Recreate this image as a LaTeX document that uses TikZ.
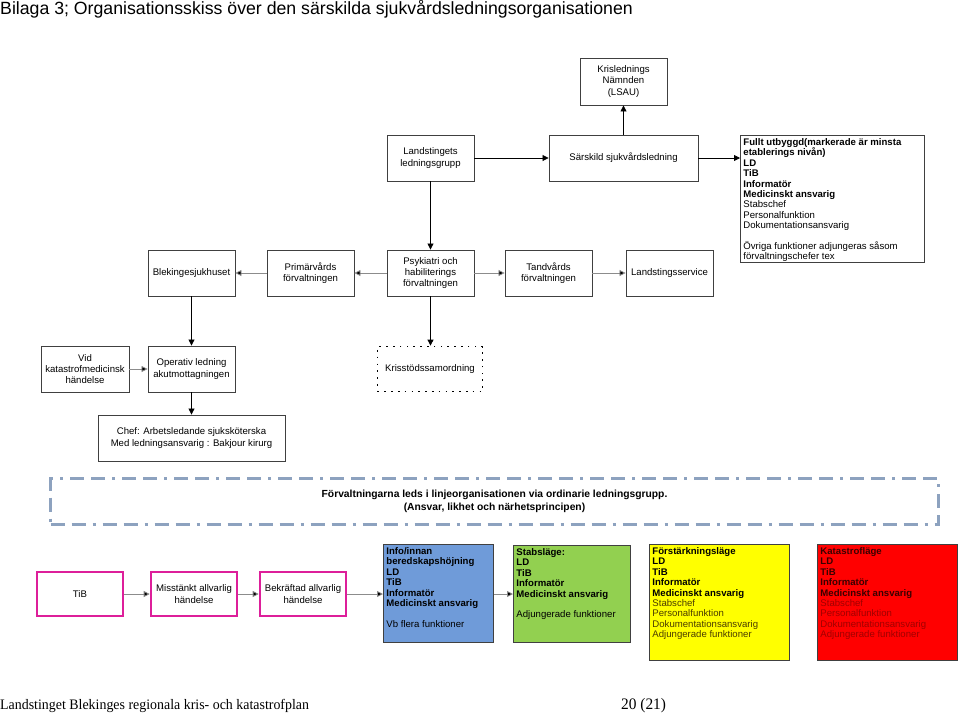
\documentclass[tikz,border=0pt]{standalone}
\usepackage{fontspec}
\setmainfont{Liberation Sans}
\newfontfamily\footfont[FakeStretch=0.96]{Liberation Serif}
\usetikzlibrary{arrows.meta}
\definecolor{bordergray}{HTML}{404040}
\definecolor{arrgray}{HTML}{8C8C8C}
\definecolor{dashblue}{HTML}{8DA2BF}
\definecolor{pinkline}{HTML}{DD1F9A}
\definecolor{boxblue}{HTML}{6F9BD9}
\definecolor{boxgreen}{HTML}{92D050}
\definecolor{boxyellow}{HTML}{FFFF00}
\definecolor{boxred}{HTML}{FF0000}
\definecolor{olivetext}{HTML}{4A3C00}
\definecolor{redtext}{HTML}{A00000}
\definecolor{darkredtext}{HTML}{3A0000}
\tikzset{
  orgbox/.style={draw=bordergray, line width=0.9pt, fill=white, align=center, inner sep=1pt,
    font=\fontsize{9.6}{11.3}\selectfont},
  infobox/.style={draw=bordergray, line width=0.9pt, anchor=north west, inner sep=3pt,
    font=\fontsize{9.6}{10.4}\selectfont},
  pinkbox/.style={draw=pinkline, line width=2.6pt, fill=white, align=center, inner sep=1pt,
    minimum width=86pt, minimum height=44pt, font=\fontsize{9.6}{11.3}\selectfont},
  arr/.style={draw=black, line width=0.8pt, -{Triangle[length=6pt,width=6pt]}},
  garr/.style={draw=arrgray, line width=0.8pt, -{Triangle[length=6pt,width=6pt,fill=black]}},
}
\begin{document}
\begin{tikzpicture}[x=1pt,y=-1pt]
\useasboundingbox (0,0) rectangle (960,713);
\fill[white] (0,0) rectangle (960,713);

% title and footer
\node[anchor=base west, inner sep=0pt, font=\fontsize{17.7}{20}\selectfont] (title) at (0,14) {Bilaga 3; Organisationsskiss över den särskilda sjukvårdsledningsorganisationen};
\node[anchor=base west, inner sep=0pt, font=\footfont\fontsize{14.5}{17}\selectfont] (foot) at (0,709) {Landstinget Blekinges regionala kris- och katastrofplan};
\node[anchor=base west, inner sep=0pt, font=\footfont\fontsize{16}{18}\selectfont] (page) at (621,709) {20 (21)};

% upper organisation
\node[orgbox, minimum width=87pt, minimum height=47pt] (kris) at (623.5,81.5) {Krislednings\\Nämnden\\(LSAU)};
\node[orgbox, minimum width=87pt, minimum height=46pt] (lg) at (430.5,158) {Landstingets\\ledningsgrupp};
\node[orgbox, minimum width=149pt, minimum height=46pt] (ssl) at (623.5,158) {Särskild sjukvårdsledning};
\node[infobox] (full) at (740,135) {\parbox[t][121pt][t]{178pt}{\raggedright
\textbf{Fullt utbyggd(markerade är minsta etablerings nivån)}\\
\textbf{LD}\\
\textbf{TiB}\\
\textbf{Informatör}\\
\textbf{Medicinskt ansvarig}\\
Stabschef\\
Personalfunktion\\
Dokumentationsansvarig\\[10.4pt]
Övriga funktioner adjungeras såsom förvaltningschefer tex}};

\node[orgbox, minimum width=87pt, minimum height=46pt] (bsh) at (191.5,273) {Blekingesjukhuset};
\node[orgbox, minimum width=87pt, minimum height=46pt] (prim) at (310.5,273) {Primärvårds\\förvaltningen};
\node[orgbox, minimum width=87pt, minimum height=46pt] (psyk) at (430.5,273) {Psykiatri och\\habiliterings\\förvaltningen};
\node[orgbox, minimum width=87pt, minimum height=46pt] (tand) at (548.5,273) {Tandvårds\\förvaltningen};
\node[orgbox, minimum width=87pt, minimum height=46pt] (lss) at (669.5,273) {Landstingsservice};

\node[orgbox, minimum width=88pt, minimum height=46pt] (vid) at (85,369) {Vid\\katastrofmedicinsk\\händelse};
\node[orgbox, minimum width=87pt, minimum height=46pt] (op) at (191.5,369) {Operativ ledning\\akutmottagningen};
\node[orgbox, draw=black, line width=1.8pt, dash pattern=on 1.6pt off 5.2pt, minimum width=105pt, minimum height=45pt] (kst) at (430,369) {Krisstödssamordning};
\node[orgbox, minimum width=187pt, minimum height=46pt] (chef) at (191.5,438) {Chef: Arbetsledande sjuksköterska\\Med ledningsansvarig : Bakjour kirurg};

% line organisation note
\node[draw=dashblue, line width=2.5pt, dash pattern=on 14pt off 7pt on 14pt off 7pt on 3pt off 7pt,
  minimum width=888pt, minimum height=46pt, align=center, font=\bfseries\fontsize{10.3}{13}\selectfont] (note) at (494.5,501.5)
  {Förvaltningarna leds i linjeorganisationen via ordinarie ledningsgrupp.\\(Ansvar, likhet och närhetsprincipen)};

% bottom chain
\node[pinkbox] (tib) at (80,594) {TiB};
\node[pinkbox] (miss) at (194,594) {Misstänkt allvarlig\\händelse};
\node[pinkbox] (bekr) at (303,594) {Bekräftad allvarlig\\händelse};
\node[infobox, fill=boxblue] (blue) at (383,544) {\parbox[t][92pt][t]{104pt}{\raggedright
\textbf{Info/innan beredskapshöjning}\\
\textbf{LD}\\
\textbf{TiB}\\
\textbf{Informatör}\\
\textbf{Medicinskt ansvarig}\\[10.4pt]
Vb flera funktioner}};
\node[infobox, fill=boxgreen] (green) at (513,545) {\parbox[t][91pt][t]{111pt}{\raggedright
\textbf{Stabsläge:}\\
\textbf{LD}\\
\textbf{TiB}\\
\textbf{Informatör}\\
\textbf{Medicinskt ansvarig}\\[10.4pt]
Adjungerade funktioner}};
\node[infobox, fill=boxyellow] (yellow) at (649,544) {\parbox[t][110pt][t]{134pt}{\raggedright
\textbf{Förstärkningsläge}\\
\textbf{LD}\\
\textbf{TiB}\\
\textbf{Informatör}\\
\textbf{Medicinskt ansvarig}\\
\color{olivetext}Stabschef\\
Personalfunktion\\
Dokumentationsansvarig\\
Adjungerade funktioner}};
\node[infobox, fill=boxred] (red) at (817,544) {\parbox[t][110pt][t]{134pt}{\raggedright
\color{darkredtext}\textbf{Katastrofläge}\\
\textbf{LD}\\
\textbf{TiB}\\
\textbf{Informatör}\\
\textbf{Medicinskt ansvarig}\\
\color{redtext}Stabschef\\
Personalfunktion\\
Dokumentationsansvarig\\
Adjungerade funktioner}};

% connectors
\draw[arr] (lg.east) -- (ssl.west);
\draw[arr] (ssl.north) -- (kris.south);
\draw[arr] (ssl.east) -- (ssl.east -| full.west);
\draw[arr] (lg.south) -- (psyk.north);
\draw[garr] (psyk.west) -- (prim.east);
\draw[garr] (prim.west) -- (bsh.east);
\draw[garr] (psyk.east) -- (tand.west);
\draw[garr] (tand.east) -- (lss.west);
\draw[arr] (bsh.south) -- (op.north);
\draw[arr] (psyk.south) -- (kst.north -| psyk.south);
\draw[garr] (vid.east) -- (op.west);
\draw[arr] (op.south) -- (chef.north);
\draw[garr] (tib.east) -- (miss.west);
\draw[garr] (miss.east) -- (bekr.west);
\draw[garr] (bekr.east) -- (bekr.east -| blue.west);
\draw[garr] (bekr.east -| blue.east) -- (bekr.east -| green.west);
\end{tikzpicture}
\end{document}
